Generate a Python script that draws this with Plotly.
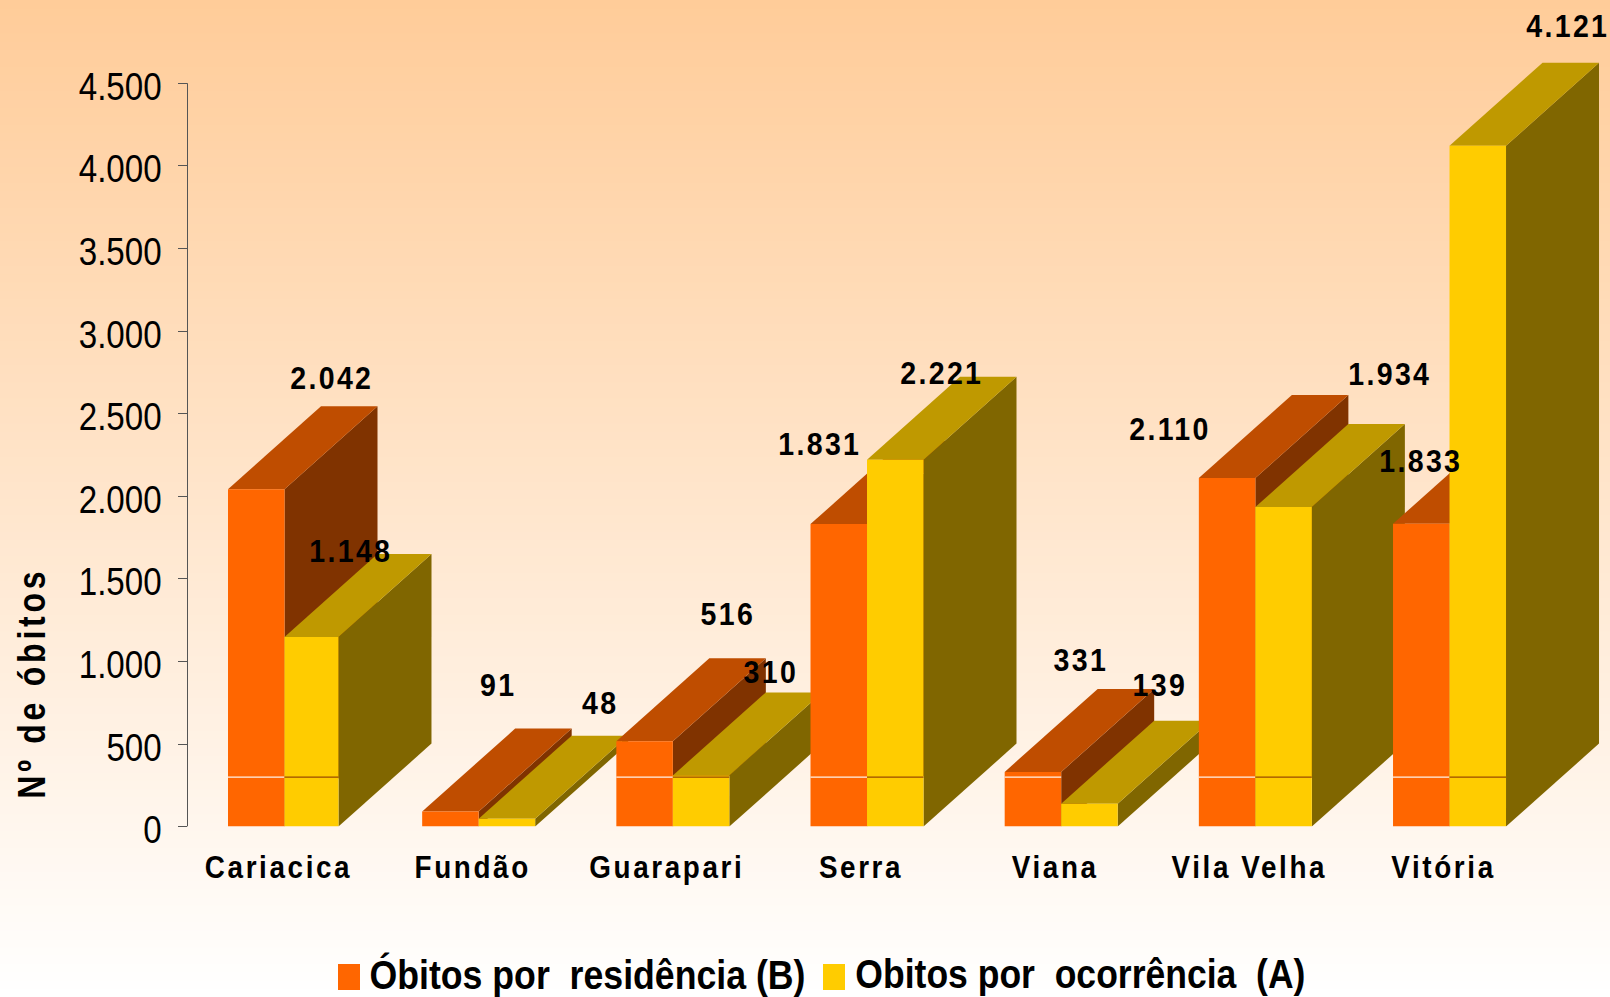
import plotly.graph_objects as go

# ---------- data ----------
MUNICIPIOS = ["Cariacica", "Fundão", "Guarapari", "Serra", "Viana", "Vila Velha", "Vitória"]
RESIDENCIA = [2042, 91, 516, 1831, 331, 2110, 1833]
OCORRENCIA = [1148, 48, 310, 2221, 139, 1934, 4121]
NOME_RES = "Óbitos por\u00a0\u00a0residência (B)"
NOME_OCO = "Obitos por\u00a0\u00a0ocorrência\u00a0\u00a0(A)"
Y_TICKS = [0, 500, 1000, 1500, 2000, 2500, 3000, 3500, 4000, 4500]
Y_TICKTEXT = ["0", "500", "1.000", "1.500", "2.000", "2.500", "3.000", "3.500", "4.000", "4.500"]
Y_TITLE = "Nº de óbitos"
LINHA_VALOR = 300  # thin rule crossing the front faces

# ---------- layout constants ----------
W, H = 1610, 997
AXIS_PX, ZERO_PX = 187.5, 826.6
PX_PER_VALUE = 0.1652
PX_PER_CAT = 194.17
CAT0_PX = 284.5
BAR_W = 0.291
WIDTHS_RES = [BAR_W] * 7
WIDTHS_OCO = [0.278] + [BAR_W] * 6
DEPTH_X = 93 / PX_PER_CAT
DEPTH_Y = 83 / PX_PER_VALUE

COL_RES = ("#FF6600", "#BF4D00", "#803300")
COL_OCO = ("#FFCC00", "#BF9900", "#806600")
RULE_RES, RULE_OCO = "#FFF3EA", "#9A4A00"

# label offsets in px from the back top edge of each bar
RES_SHIFT = [(-17.5, 28), (-45, 43), (-10, 44), (-112, -3), (-45, 28), (-150, -34), (-93, -21)]
OCO_SHIFT = [(-53, 2), (0, 32), (-23, 20), (-46, 3), (-22, 35), (13, 50), (-3, 36)]

ARIAL = "Liberation Sans"
fig = go.Figure()


def face(xs, ys, color, name):
    fig.add_trace(go.Scatter(x=xs, y=ys, mode="lines", fill="toself", fillcolor=color,
                             line=dict(width=0, color=color), name=name, hoverinfo="name",
                             showlegend=False))


def bar3d(x0, w, v, cols, rule, name):
    x1 = x0 + w
    face([x1, x1 + DEPTH_X, x1 + DEPTH_X, x1, x1],
         [0, DEPTH_Y, v + DEPTH_Y, v, 0], cols[2], name)
    face([x0, x1, x1 + DEPTH_X, x0 + DEPTH_X, x0],
         [v, v, v + DEPTH_Y, v + DEPTH_Y, v], cols[1], name)
    face([x0, x1, x1, x0, x0], [0, 0, v, v, 0], cols[0], name)
    if v > LINHA_VALOR:
        fig.add_trace(go.Scatter(x=[x0, x1], y=[LINHA_VALOR, LINHA_VALOR], mode="lines",
                                 line=dict(width=1.2, color=rule), hoverinfo="skip",
                                 showlegend=False))


annotations = []


def label(x, v, shift):
    txt = f"{v:,}".replace(",", ".")
    annotations.append(dict(x=x + DEPTH_X, y=v + DEPTH_Y, text=txt, showarrow=False,
                            xanchor="center", yanchor="middle",
                            xshift=shift[0], yshift=shift[1],
                            font=dict(family=ARIAL, size=31, color="#000000", weight="bold")))


for i in range(len(MUNICIPIOS)):
    wr, wo = WIDTHS_RES[i], WIDTHS_OCO[i]
    bar3d(i - wr, wr, RESIDENCIA[i], COL_RES, RULE_RES, NOME_RES)
    bar3d(i, wo, OCORRENCIA[i], COL_OCO, RULE_OCO, NOME_OCO)
for i in range(len(MUNICIPIOS)):
    label(i - WIDTHS_RES[i] / 2, RESIDENCIA[i], RES_SHIFT[i])
    label(i + WIDTHS_OCO[i] / 2, OCORRENCIA[i], OCO_SHIFT[i])

# y axis title
annotations.append(dict(xref="paper", yref="paper", x=31 / W, y=1 - 683 / H, text=Y_TITLE,
                        textangle=-90, showarrow=False, xanchor="center", yanchor="middle",
                        font=dict(family=ARIAL, size=38.5, color="#000000", weight="bold")))
# legend
annotations.append(dict(xref="paper", yref="paper", x=587 / W, y=1 - 974 / H, text=NOME_RES,
                        showarrow=False, xanchor="center", yanchor="middle",
                        font=dict(family=ARIAL, size=40, color="#000000", weight="bold")))
annotations.append(dict(xref="paper", yref="paper", x=1080 / W, y=1 - 974 / H, text=NOME_OCO,
                        showarrow=False, xanchor="center", yanchor="middle",
                        font=dict(family=ARIAL, size=40, color="#000000", weight="bold")))

# background gradient: each band runs to the page bottom so that no seams show
shapes = []
N = 120
for k in range(N):
    t = (k + 0.5) / N
    c = f"rgb(255,{round(204 + 51 * t)},{round(153 + 102 * t)})"
    shapes.append(dict(type="rect", xref="paper", yref="paper", x0=0, x1=1,
                       y0=0, y1=1 - k / N, layer="below",
                       fillcolor=c, line=dict(width=0)))
# axis line ends at the last tick
shapes.append(dict(type="line", xref="paper", yref="y", x0=AXIS_PX / W, x1=AXIS_PX / W,
                   y0=Y_TICKS[0], y1=Y_TICKS[-1], line=dict(color="#555555", width=1)))
# legend swatches
shapes.append(dict(type="rect", xref="paper", yref="paper", x0=338 / W, x1=360 / W,
                   y0=1 - 990 / H, y1=1 - 964 / H, fillcolor=COL_RES[0], line=dict(width=0)))
shapes.append(dict(type="rect", xref="paper", yref="paper", x0=823 / W, x1=845 / W,
                   y0=1 - 990 / H, y1=1 - 964 / H, fillcolor=COL_OCO[0], line=dict(width=0)))

fig.update_layout(
    width=W, height=H, margin=dict(l=0, r=0, t=0, b=0, pad=0, autoexpand=False),
    paper_bgcolor="white", plot_bgcolor="rgba(0,0,0,0)", showlegend=False,
    annotations=annotations, shapes=shapes,
    xaxis=dict(domain=[AXIS_PX / W, 1],
               range=[(AXIS_PX - CAT0_PX) / PX_PER_CAT, (W - CAT0_PX) / PX_PER_CAT],
               tickmode="array", tickvals=list(range(len(MUNICIPIOS))), ticktext=MUNICIPIOS,
               ticks="", showgrid=False, zeroline=False, showline=False,
               ticklabelstandoff=18, ticklabelshift=-6,
               tickfont=dict(family=ARIAL, size=32, color="#000000", weight="bold")),
    yaxis=dict(domain=[1 - ZERO_PX / H, 1], range=[0, ZERO_PX / PX_PER_VALUE],
               tickmode="array", tickvals=Y_TICKS, ticktext=Y_TICKTEXT,
               ticks="outside", ticklen=9, tickwidth=1, tickcolor="#555555",
               showgrid=False, zeroline=False, showline=False,
               ticklabelstandoff=8, ticklabelshift=3,
               tickfont=dict(family=ARIAL, size=39, color="#000000")),
)

POST = """
document.body.style.margin='0';
document.documentElement.style.overflow='hidden';
function squeeze(t,spacing,factor,target){
  t.style.letterSpacing=spacing;
  var len=target||t.getComputedTextLength()*factor;
  t.setAttribute('textLength',len);
  t.setAttribute('lengthAdjust','spacingAndGlyphs');
}
document.querySelectorAll('.annotation-text').forEach(function(t){
  var fs=t.style.fontSize, txt=t.textContent;
  if(fs==='31px'){squeeze(t,'2.5px',0.92);}
  else if(fs==='38.5px'){squeeze(t,'4.5px',1,231);}
  else if(txt.indexOf('residência')>=0){squeeze(t,'0px',1,436);}
  else if(txt.indexOf('ocorrência')>=0){squeeze(t,'0px',1,450);}
});
document.querySelectorAll('.xtick text').forEach(function(t){squeeze(t,'3px',0.87);});
document.querySelectorAll('.ytick text').forEach(function(t){squeeze(t,'0px',0.85);});
"""
fig.write_html("out.html", post_script=POST, config=dict(displayModeBar=False))
